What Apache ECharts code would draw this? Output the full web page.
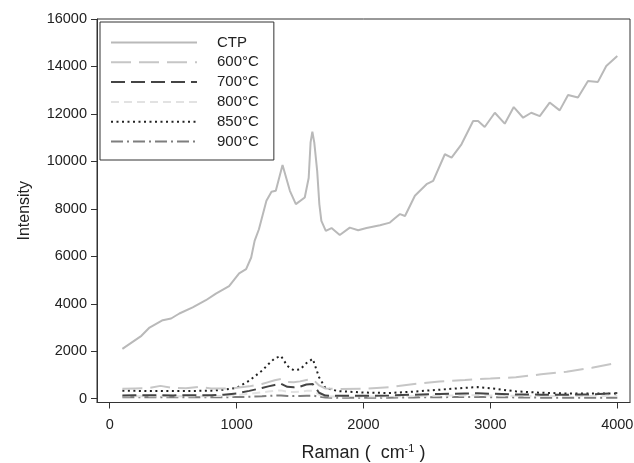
<!DOCTYPE html>
<html>
<head>
<meta charset="utf-8">
<script src="https://cdn.jsdelivr.net/npm/echarts@6/dist/echarts.min.js"></script>
<style>html,body{margin:0;padding:0;background:#fff}#c{width:634px;height:463px}</style>
</head>
<body>
<div id="c"></div>
<script>
// ---- data ----
const seriesNames = ['CTP', '600°C', '700°C', '800°C', '850°C', '900°C'];
const yTicks = [0, 2000, 4000, 6000, 8000, 10000, 12000, 14000, 16000];
const xTicks = [0, 1000, 2000, 3000, 4000];

const ramanCTP = [100, 250, 314, 418, 484, 549, 654, 758, 837, 941, 1020, 1075, 1115, 1142, 1176, 1235, 1275, 1309, 1362, 1420, 1467, 1537, 1568, 1583, 1597, 1612, 1635, 1652, 1668, 1703, 1748, 1813, 1892, 1958, 2024, 2130, 2208, 2247, 2288, 2327, 2405, 2497, 2549, 2641, 2694, 2772, 2864, 2903, 2955, 3035, 3113, 3184, 3258, 3322, 3389, 3467, 3546, 3612, 3690, 3769, 3847, 3913, 4000];
const intensityCTP = [2100, 2650, 3000, 3310, 3380, 3590, 3850, 4150, 4430, 4740, 5280, 5460, 5950, 6650, 7140, 8340, 8720, 8760, 9850, 8760, 8200, 8480, 9300, 10800, 11250, 10800, 9600, 8200, 7490, 7070, 7190, 6900, 7210, 7100, 7190, 7310, 7420, 7600, 7780, 7700, 8550, 9040, 9180, 10300, 10160, 10720, 11700, 11700, 11450, 12050, 11590, 12290, 11840, 12050, 11910, 12480, 12150, 12800, 12690, 13390, 13350, 14020, 14440];

const ramanLow = [100, 200, 300, 400, 500, 600, 700, 800, 900, 1000, 1100, 1200, 1250, 1300, 1350, 1400, 1450, 1500, 1550, 1600, 1650, 1700, 1800, 2000, 2200, 2400, 2600, 2800, 2900, 3000, 3200, 3400, 3600, 3800, 4000];
const int600 = [420, 430, 440, 540, 450, 440, 500, 430, 430, 460, 520, 620, 700, 780, 830, 700, 690, 730, 790, 820, 560, 430, 410, 420, 480, 620, 720, 790, 830, 850, 900, 1030, 1140, 1300, 1510];
const int700 = [130, 150, 150, 150, 140, 150, 140, 150, 170, 220, 330, 450, 520, 580, 630, 500, 480, 510, 600, 620, 250, 130, 120, 120, 140, 170, 200, 220, 230, 210, 180, 170, 170, 180, 240];
const int800 = [100, 100, 100, 110, 100, 100, 100, 110, 120, 150, 210, 270, 300, 330, 350, 290, 280, 300, 330, 340, 170, 100, 90, 90, 100, 110, 130, 140, 150, 140, 120, 110, 110, 110, 120];
const int850 = [340, 330, 320, 330, 320, 320, 330, 340, 380, 460, 760, 1180, 1450, 1700, 1800, 1380, 1200, 1230, 1500, 1680, 900, 450, 320, 260, 240, 300, 380, 460, 490, 440, 310, 250, 220, 220, 220];
const int900 = [60, 60, 60, 60, 60, 60, 60, 60, 60, 70, 80, 100, 115, 130, 140, 115, 110, 115, 125, 130, 90, 50, 40, 40, 45, 55, 65, 70, 70, 65, 55, 45, 40, 40, 40];

// ---- build ----
function pairs(xs, ys) { return xs.map((x, i) => [x, ys[i]]); }
const styles = [
  { color: '#b9b9b9', width: 2, type: 'solid' },
  { color: '#c6c6c6', width: 2, type: [20, 8] },
  { color: '#444444', width: 2, type: [14, 6] },
  { color: '#e2e2e2', width: 2, type: [8, 5] },
  { color: '#222222', width: 2, type: [2, 3.5] },
  { color: '#7e7e7e', width: 2, type: [12, 4, 2, 4] }
];
const datasets = [
  pairs(ramanCTP, intensityCTP),
  pairs(ramanLow, int600),
  pairs(ramanLow, int700),
  pairs(ramanLow, int800),
  pairs(ramanLow, int850),
  pairs(ramanLow, int900)
];
const FONT = '"Liberation Sans", Arial, sans-serif';
const plain = v => String(v);

const chart = echarts.init(document.getElementById('c'), null, { renderer: 'canvas' });
chart.setOption({
  animation: false,
  backgroundColor: '#ffffff',
  grid: { left: 97, right: 4, top: 19, bottom: 60.5, show: true, borderColor: '#333', borderWidth: 1, backgroundColor: 'transparent', containLabel: false, outerBoundsMode: 'none' },
  legend: {
    left: 100, top: 22, orient: 'vertical',
    data: seriesNames,
    itemWidth: 86, itemHeight: 14, itemGap: 4.8,
    padding: [13, 15, 11, 10],
    borderColor: '#333', borderWidth: 1,
    backgroundColor: '#fff',
    itemStyle: { opacity: 0 },
    textStyle: { fontFamily: FONT, fontSize: 15, color: '#222', padding: [0, 0, 0, 15], width: 42 },
    selectedMode: false
  },
  xAxis: {
    type: 'value', min: -100, max: 4100,
    name: '{a|Raman (  cm}{s|-1}{a| )}', nameLocation: 'middle', nameGap: 41,
    nameTextStyle: {
      rich: {
        a: { fontFamily: FONT, fontSize: 18, color: '#222' },
        s: { fontFamily: FONT, fontSize: 11, color: '#222', verticalAlign: 'top', padding: [0, 0, 8, 0] }
      }
    },
    axisLine: { show: true, onZero: false, lineStyle: { color: '#333', width: 1 } },
    axisTick: { show: true, inside: false, length: 6, customValues: xTicks, lineStyle: { color: '#333' } },
    axisLabel: { customValues: xTicks, formatter: plain, margin: 15, fontFamily: FONT, fontSize: 14.5, color: '#222' },
    splitLine: { show: false }
  },
  yAxis: {
    type: 'value', min: -160, max: 16000,
    name: 'Intensity', nameLocation: 'middle', nameGap: 64, nameRotate: 90,
    nameTextStyle: { fontFamily: FONT, fontSize: 16, color: '#222' },
    axisLine: { show: true, onZero: false, lineStyle: { color: '#333', width: 1 } },
    axisTick: { show: true, inside: false, length: 6, customValues: yTicks, lineStyle: { color: '#333' } },
    axisLabel: { customValues: yTicks, formatter: plain, margin: 10, fontFamily: FONT, fontSize: 14.5, color: '#222' },
    splitLine: { show: false }
  },
  series: seriesNames.map((n, i) => ({
    name: n, type: 'line', data: datasets[i],
    symbol: 'none', showSymbol: false, smooth: false,
    z: 10 - i,
    lineStyle: { color: styles[i].color, width: styles[i].width, type: styles[i].type },
    itemStyle: { color: styles[i].color }
  }))
});
</script>
</body>
</html>
